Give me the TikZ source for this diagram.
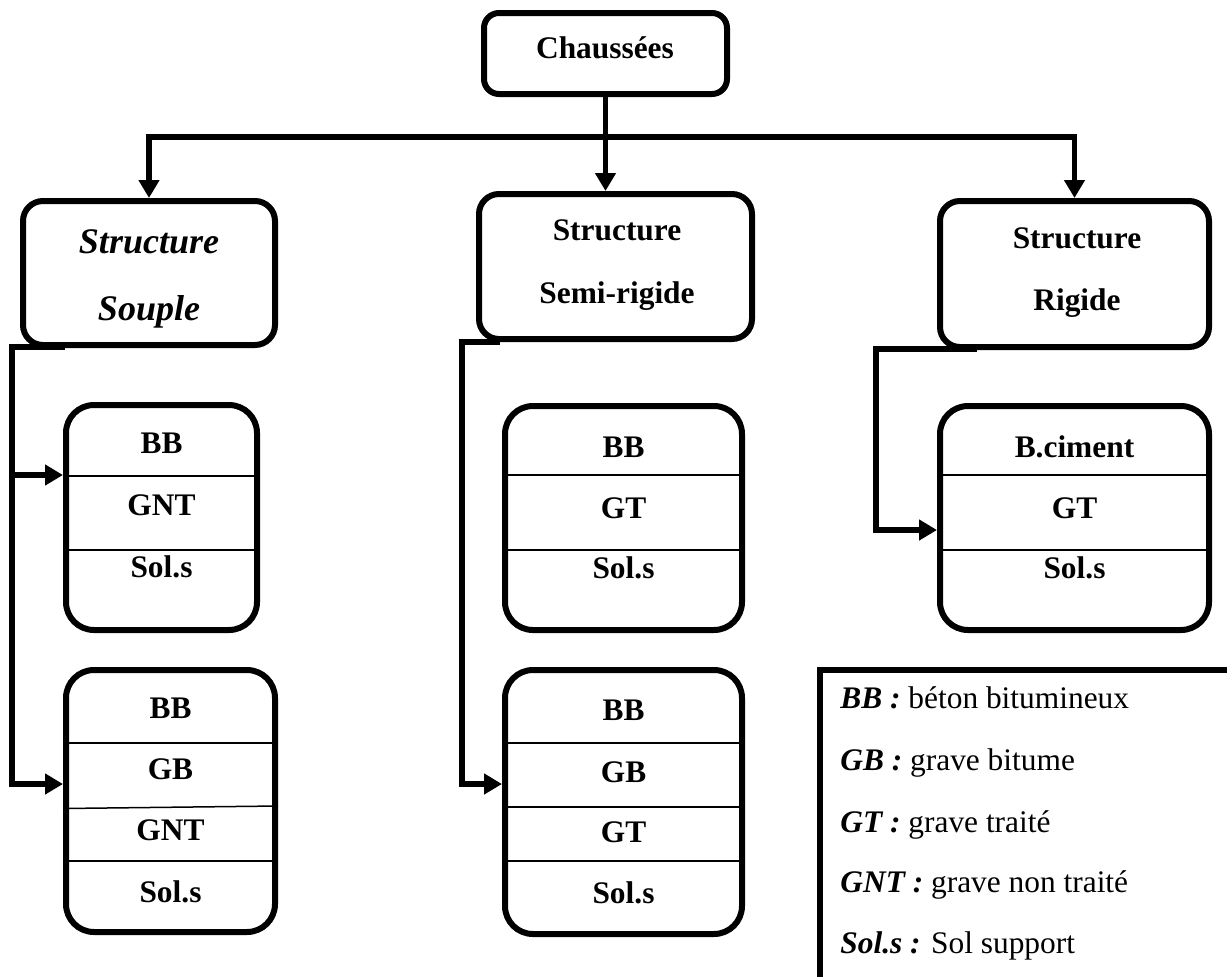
\documentclass[tikz,border=0pt]{standalone}
\usepackage{fontspec}
\setmainfont{Liberation Serif}
\usetikzlibrary{arrows.meta}
\begin{document}
\begin{tikzpicture}[x=0.5pt,y=-0.5pt,
  box/.style={draw, line width=3pt, rounded corners=10pt, inner sep=0pt},
  layerbox/.style={draw, line width=3pt, rounded corners=14pt, inner sep=0pt},
  conn/.style={line width=2.6pt},
  tip/.style={-{Triangle[length=9pt,width=10pt]}},
  divider/.style={line width=0.75pt},
  lbl/.style={font=\bfseries\fontsize{15.7}{19}\selectfont, anchor=base, inner sep=0pt},
  bigital/.style={font=\bfseries\itshape\fontsize{18}{22}\selectfont, anchor=base, inner sep=0pt},
  key/.style={font=\fontsize{15.7}{19}\selectfont, anchor=base west, inner sep=0pt}]
\useasboundingbox (0,0) rectangle (1227,976);

% main boxes
\node[box, rounded corners=7.5pt, minimum width=121.5pt, minimum height=40.5pt] (top) at (605.5,53.5) {};
\node[box, minimum width=126pt, minimum height=72pt] (souple) at (149,273) {};
\node[box, minimum width=136.5pt, minimum height=72.5pt] (semi) at (615.5,266.5) {};
\node[box, minimum width=134.5pt, minimum height=73pt] (rigide) at (1074.5,274) {};

\node[lbl] (tTop) at (605,58) {Chaussées};
\node[bigital] (tS1) at (149,253) {Structure};
\node[bigital] (tS2) at (149,320) {Souple};
\node[lbl] (tM1) at (617,240) {Structure};
\node[lbl] (tM2) at (617,303) {Semi-rigide};
\node[lbl] (tR1) at (1077,248) {Structure};
\node[lbl] (tR2) at (1077,310) {Rigide};

% layer boxes
\node[layerbox, minimum width=95.5pt, minimum height=112.5pt] (L1) at (161.5,517.5) {};
\node[layerbox, minimum width=104.5pt, minimum height=131pt] (L2) at (170.5,801) {};
\node[layerbox, minimum width=118.5pt, minimum height=112pt] (M1) at (623.5,518) {};
\node[layerbox, minimum width=118.5pt, minimum height=132pt] (M2) at (623.5,802) {};
\node[layerbox, minimum width=134.5pt, minimum height=112pt] (R1) at (1074.5,518) {};

% layer dividers
\draw[divider] (L1.west |- 0,476) -- (L1.east |- 0,476);
\draw[divider] (L1.west |- 0,550) -- (L1.east |- 0,550);
\draw[divider] (L2.west |- 0,743) -- (L2.east |- 0,743);
\draw[divider] (L2.west |- 0,808.5) -- (L2.east |- 0,806);
\draw[divider] (L2.west |- 0,861) -- (L2.east |- 0,861);
\draw[divider] (M1.west |- 0,475) -- (M1.east |- 0,475);
\draw[divider] (M1.west |- 0,550) -- (M1.east |- 0,550);
\draw[divider] (M2.west |- 0,743) -- (M2.east |- 0,743);
\draw[divider] (M2.west |- 0,807) -- (M2.east |- 0,807);
\draw[divider] (M2.west |- 0,861) -- (M2.east |- 0,861);
\draw[divider] (R1.west |- 0,475) -- (R1.east |- 0,475);
\draw[divider] (R1.west |- 0,550) -- (R1.east |- 0,550);

% layer labels
\node[lbl] (l1a) at (161.5,453) {BB};
\node[lbl] (l1b) at (161.5,515) {GNT};
\node[lbl] (l1c) at (161.5,577) {Sol.s};
\node[lbl] (l2a) at (170.5,718) {BB};
\node[lbl] (l2b) at (170.5,779) {GB};
\node[lbl] (l2c) at (170.5,840) {GNT};
\node[lbl] (l2d) at (170.5,902) {Sol.s};
\node[lbl] (m1a) at (623.5,457) {BB};
\node[lbl] (m1b) at (623.5,518) {GT};
\node[lbl] (m1c) at (623.5,578) {Sol.s};
\node[lbl] (m2a) at (623.5,720) {BB};
\node[lbl] (m2b) at (623.5,782) {GB};
\node[lbl] (m2c) at (623.5,842) {GT};
\node[lbl] (m2d) at (623.5,903) {Sol.s};
\node[lbl] (r1a) at (1074.5,457) {B.ciment};
\node[lbl] (r1b) at (1074.5,518) {GT};
\node[lbl] (r1c) at (1074.5,578) {Sol.s};

% connectors from the root
\draw[conn, tip] (top.south) -- (top.south |- semi.north);
\draw[conn, {Triangle[length=9pt,width=10pt]}-{Triangle[length=9pt,width=10pt]}]
  (souple.north) |- (top.south |- 0,137) -| (rigide.north);

% connectors to the layer boxes
\draw[conn, tip] (souple.south west) ++(45,-1) -| (12,784) -- (L2.west |- 0,784);
\draw[conn, tip] (12,475) -- (L1.west |- 0,475);
\draw[conn, tip] (semi.south west) ++(24,0) -| (462,784) -- (M2.west |- 0,784);
\draw[conn, tip] (rigide.south west) ++(40,-1) -| (876,530) -- (R1.west |- 0,530);

% key
\begin{scope}
  \clip (0,0) rectangle (1227,976);
  \node[draw, line width=3pt, anchor=north west, inner sep=0pt,
        minimum width=230pt, minimum height=170pt] (legend) at (817,667) {};
\end{scope}
\node[key] (k1) at (840,708) {\textbf{\textit{BB :}} béton bitumineux};
\node[key] (k2) at (840,770) {\textbf{\textit{GB :}} grave bitume};
\node[key] (k3) at (840,832) {\textbf{\textit{GT :}} grave traité};
\node[key] (k4) at (840,892) {\textbf{\textit{GNT :}} grave non traité};
\node[key] (k5) at (840,953) {\textbf{\textit{Sol.s :}} Sol support};
\end{tikzpicture}
\end{document}
